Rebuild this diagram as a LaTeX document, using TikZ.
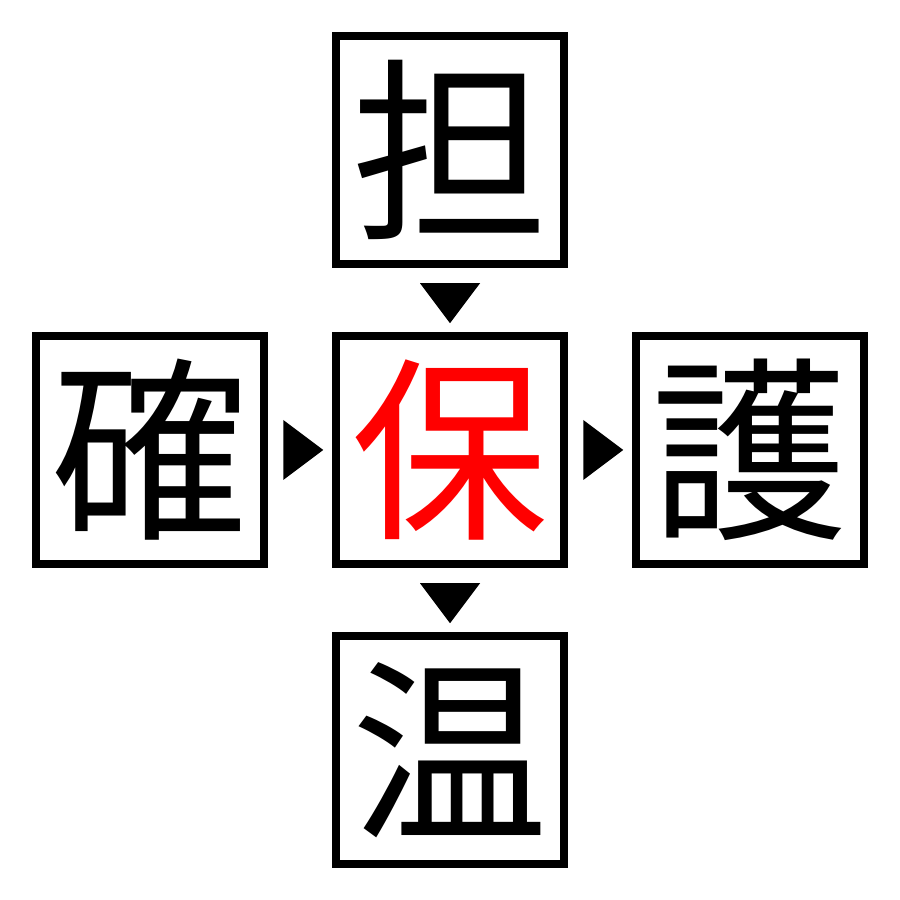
\documentclass[tikz,border=0pt]{standalone}
\usepackage{fontspec}
\newfontfamily\cjk{Noto Sans CJK JP}
\begin{document}
\begin{tikzpicture}[x=1cm,y=1cm]
    \tikzstyle{kanji}=[draw,line width=0.085cm,minimum size=2.28cm,inner sep=0pt,
      font=\cjk\fontsize{56}{56}\selectfont]
    \tikzstyle{pointer}=[fill=black]
    \useasboundingbox (0,0) rectangle (9,9);
    \node[kanji,text=red] (centre) at (4.5,4.5) {保};
    \node[kanji] (top) at (4.5,7.5) {担};
    \node[kanji] (left) at (1.5,4.5) {確};
    \node[kanji] (right) at (7.5,4.5) {護};
    \node[kanji] (bottom) at (4.5,1.5) {温};
    % triangles between the boxes
    \fill[pointer] (top.south) ++(0,-0.15) -- ++(0.3,0) -- ++(-0.3,-0.4) -- ++(-0.3,0.4) -- cycle;
    \fill[pointer] (centre.south) ++(0,-0.15) -- ++(0.3,0) -- ++(-0.3,-0.4) -- ++(-0.3,0.4) -- cycle;
    \fill[pointer] (left.east) ++(0.15,0) -- ++(0,0.3) -- ++(0.4,-0.3) -- ++(-0.4,-0.3) -- cycle;
    \fill[pointer] (centre.east) ++(0.15,0) -- ++(0,0.3) -- ++(0.4,-0.3) -- ++(-0.4,-0.3) -- cycle;
\end{tikzpicture}
\end{document}
